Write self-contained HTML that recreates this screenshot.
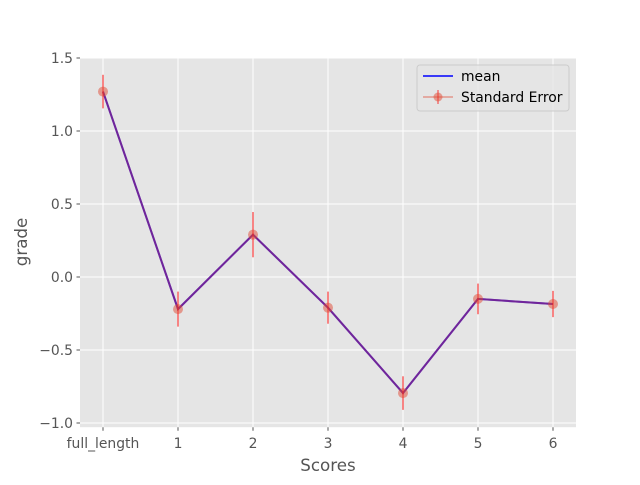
<!DOCTYPE html>
<html><head><meta charset="utf-8"><style>
body{margin:0;background:#fff;}
svg text{font-family:"DejaVu Sans","Liberation Sans",sans-serif;}
</style></head><body>
<svg id="chart" width="640" height="480" viewBox="0 0 640 480" xmlns="http://www.w3.org/2000/svg">
<rect x="80" y="57.6" width="496" height="369.6" fill="#e5e5e5"/>
<g id="grid"></g>
<g id="marks"></g>
<g id="ticks"></g>
<text x="328" y="471" font-size="16.7" fill="#555" text-anchor="middle">Scores</text>
<text transform="translate(27,242) rotate(-90)" font-size="16.7" fill="#555" text-anchor="middle">grade</text>
<g>
<rect x="417" y="65" width="152" height="46" rx="3" fill="#e5e5e5" stroke="#cccccc" stroke-width="1" fill-opacity="0.8"/>
<g>
<line x1="423" y1="76" x2="453" y2="76" stroke="#0000ff" stroke-width="1.5"/>
<text x="461" y="81" font-size="13.9" fill="#000">mean</text>
</g>
<g>
<line x1="423" y1="97" x2="453" y2="97" stroke="#e24a33" stroke-opacity="0.5" stroke-width="1.5"/>
<line x1="438" y1="90" x2="438" y2="104" stroke="#ff0000" stroke-opacity="0.5" stroke-width="1.5"/>
<circle cx="438" cy="97" r="4.5" fill="#e24a33" fill-opacity="0.5"/>
<text x="461" y="102" font-size="13.9" fill="#000">Standard Error</text>
</g>
</g>
</svg>
<script>
const categories = ["full_length","1","2","3","4","5","6"];
const meanValues = [1.27, -0.22, 0.29, -0.21, -0.795, -0.15, -0.185];
const errValues = [0.115, 0.12, 0.155, 0.11, 0.115, 0.105, 0.09];
const yTicks = [1.5, 1.0, 0.5, 0.0, -0.5, -1.0];
const yTickLabels = ["1.5","1.0","0.5","0.0","\u22120.5","\u22121.0"];

const NS="http://www.w3.org/2000/svg";
const x = i => 103 + i*75;
const y = v => 277 - v*146;
function mk(tag, attrs, parent){const e=document.createElementNS(NS,tag);for(const k in attrs)e.setAttribute(k,attrs[k]);parent.appendChild(e);return e;}
const grid=document.getElementById('grid'), marks=document.getElementById('marks'), ticks=document.getElementById('ticks');
yTicks.forEach((v,i)=>{
  const l=mk('line',{x1:80,x2:576,y1:y(v),y2:y(v),stroke:'#fff','stroke-width':1},grid);
  
  
  const tl=mk('line',{x1:76.5,x2:80,y1:y(v),y2:y(v),stroke:'#555'},ticks);
  
  
  const t=mk('text',{x:73,y:y(v)+5,'font-size':13.9,fill:'#555','text-anchor':'end'},ticks);
  t.textContent=yTickLabels[i];
  
  
});
categories.forEach((c,i)=>{
  const l=mk('line',{x1:x(i),x2:x(i),y1:57.6,y2:427.2,stroke:'#fff','stroke-width':1},grid);
  
  
  const tl=mk('line',{x1:x(i),x2:x(i),y1:427.2,y2:430.7,stroke:'#555'},ticks);
  
  
  const t=mk('text',{x:x(i),y:448,'font-size':13.9,fill:'#555','text-anchor':'middle'},ticks);
  t.textContent=c;
  
  
});
const pts=meanValues.map((v,i)=>x(i)+','+y(v)).join(' ');
const ml=mk('polyline',{points:pts,fill:'none',stroke:'#0000ff','stroke-width':2},marks);


const el=mk('polyline',{points:pts,fill:'none',stroke:'#e24a33','stroke-opacity':0.5,'stroke-width':2},marks);


meanValues.forEach((v,i)=>{
  const b=mk('line',{x1:x(i),x2:x(i),y1:y(v+errValues[i]),y2:y(v-errValues[i]),stroke:'#ff0000','stroke-opacity':0.5,'stroke-width':1.8},marks);
  
  
  const p=mk('circle',{cx:x(i),cy:y(v),r:5,fill:'#e24a33','fill-opacity':0.5},marks);
  
  
});
</script>
</body></html>
